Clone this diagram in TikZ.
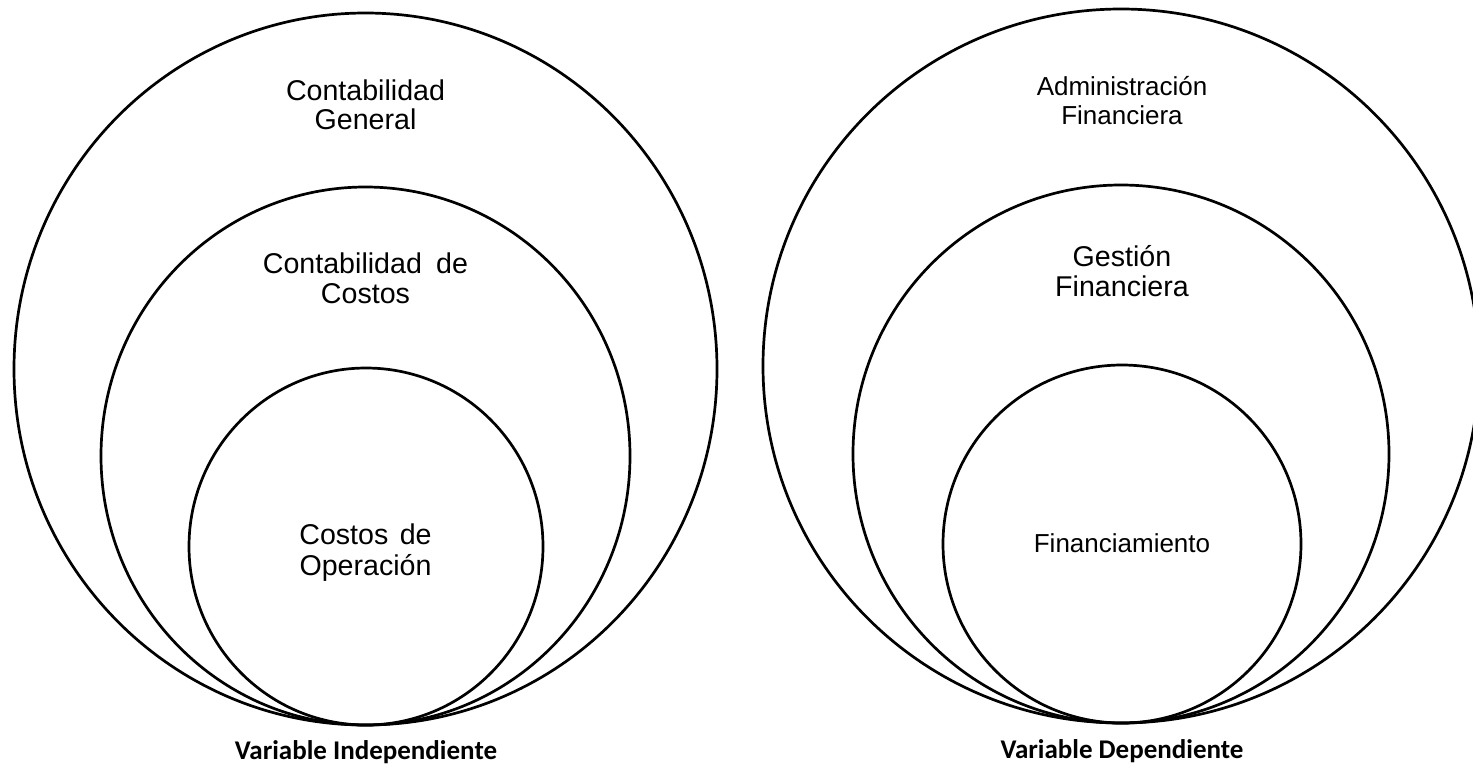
\documentclass[tikz,border=0pt]{standalone}
\usepackage{fontspec}
\setmainfont{Liberation Sans}
\newfontfamily\calib{Carlito}
\begin{document}
\begin{tikzpicture}[x=1pt,y=-1pt,
  ring/.style={draw=black, line width=2.7pt},
  big/.style={anchor=base, inner sep=0pt, font=\fontsize{28.6}{30}\selectfont},
  small/.style={anchor=base, inner sep=0pt, font=\fontsize{26}{28}\selectfont},
  vartitle/.style={anchor=base, inner sep=0pt, font=\calib\bfseries\fontsize{27}{30}\selectfont}]
\useasboundingbox (0,0) rectangle (1473,772);
\fill[white] (0,0) rectangle (1473,772);
% left group
\draw[ring] (365.5,369) ellipse [x radius=351.5, y radius=356];
\draw[ring] (365.5,456) ellipse [x radius=264.5, y radius=269];
\draw[ring] (366,546.5) ellipse [x radius=177, y radius=178.5];
% right group
\draw[ring] (1121,366) ellipse [x radius=358, y radius=357];
\draw[ring] (1121,454) ellipse [x radius=268, y radius=269];
\draw[ring] (1122,544) ellipse [x radius=179, y radius=179];
% left labels
\node[big] (cg1) at (365.5,100) {Contabilidad};
\node[big] (cg2) at (365.5,129) {General};
\node[big] (cc1) at (365.5,273) {Contabilidad\hspace{0.5em}de};
\node[big] (cc2) at (365.5,303) {Costos};
\node[big] (co1) at (365.5,544) {Costos\hspace{0.4em}de};
\node[big] (co2) at (365.5,575) {Operación};
\node[vartitle] (vi) at (366,759) {Variable Independiente};
% right labels
\node[small] (af1) at (1122,95) {Administración};
\node[small] (af2) at (1122,124) {Financiera};
\node[big] (gf1) at (1122,266) {Gestión};
\node[big] (gf2) at (1122,296) {Financiera};
\node[small] (fi) at (1122,552) {Financiamiento};
\node[vartitle] (vd) at (1122,758) {Variable Dependiente};
\end{tikzpicture}
\end{document}
